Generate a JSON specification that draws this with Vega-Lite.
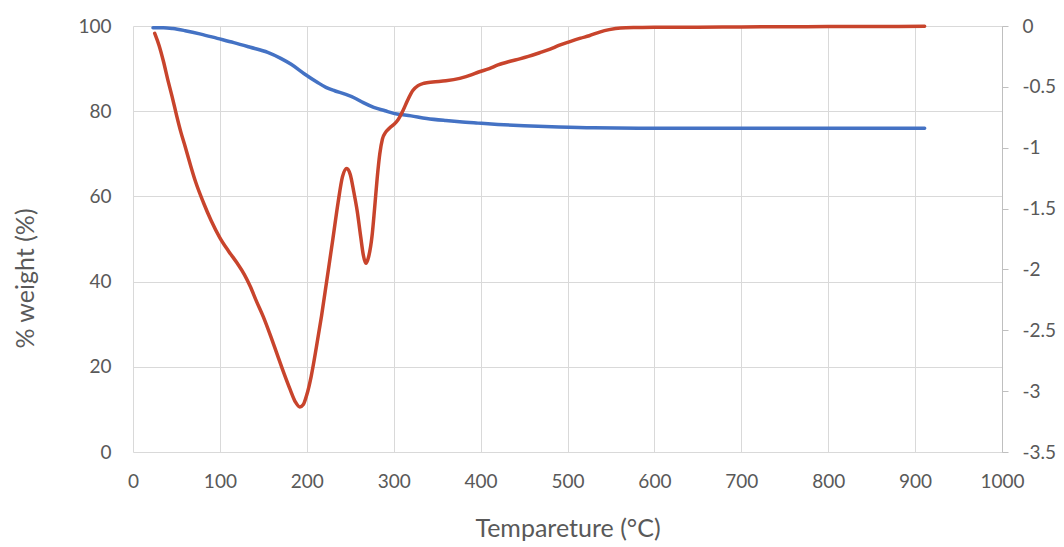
{
  "$schema": "https://vega.github.io/schema/vega-lite/v6.json",
  "width": 869,
  "height": 426,
  "autosize": {"type": "none"},
  "padding": {"left": 133, "top": 26, "right": 62, "bottom": 95},
  "background": "white",
  "config": {
    "view": {"stroke": null},
    "font": "Lato",
    "axis": {
      "labelColor": "#595959",
      "titleColor": "#595959",
      "labelFont": "Lato",
      "titleFont": "Lato",
      "labelFontSize": 19,
      "titleFontSize": 25,
      "titleFontWeight": "normal",
      "gridColor": "#d9d9d9",
      "gridWidth": 1,
      "domainColor": "#bfbfbf",
      "tickColor": "#bfbfbf",
      "labelFlush": false,
      "labelOverlap": false
    }
  },
  "datasets": {
    "tga": [
      {"temperature": 23, "weight": 99.6},
      {"temperature": 35, "weight": 99.6},
      {"temperature": 46, "weight": 99.4},
      {"temperature": 60, "weight": 98.9},
      {"temperature": 78, "weight": 98.1},
      {"temperature": 97, "weight": 97.1},
      {"temperature": 116, "weight": 96.1},
      {"temperature": 135, "weight": 95.0},
      {"temperature": 155, "weight": 93.8},
      {"temperature": 170, "weight": 92.4},
      {"temperature": 182, "weight": 91.0},
      {"temperature": 197, "weight": 88.8},
      {"temperature": 212, "weight": 86.8},
      {"temperature": 222, "weight": 85.6},
      {"temperature": 232, "weight": 84.8},
      {"temperature": 244, "weight": 84.0},
      {"temperature": 255, "weight": 83.1},
      {"temperature": 265, "weight": 82.0},
      {"temperature": 277, "weight": 80.9},
      {"temperature": 290, "weight": 80.1},
      {"temperature": 300, "weight": 79.5},
      {"temperature": 320, "weight": 78.9},
      {"temperature": 338, "weight": 78.3},
      {"temperature": 360, "weight": 77.8},
      {"temperature": 376, "weight": 77.5},
      {"temperature": 397, "weight": 77.2},
      {"temperature": 420, "weight": 76.9},
      {"temperature": 450, "weight": 76.6},
      {"temperature": 490, "weight": 76.3},
      {"temperature": 530, "weight": 76.1},
      {"temperature": 600, "weight": 76.0},
      {"temperature": 700, "weight": 76.0},
      {"temperature": 800, "weight": 76.0},
      {"temperature": 911, "weight": 76.0}
    ],
    "dtg": [
      {"temperature": 25, "dtg": -0.06},
      {"temperature": 30, "dtg": -0.16},
      {"temperature": 35, "dtg": -0.29},
      {"temperature": 40, "dtg": -0.44},
      {"temperature": 45, "dtg": -0.58},
      {"temperature": 50, "dtg": -0.73},
      {"temperature": 55, "dtg": -0.87},
      {"temperature": 60, "dtg": -0.99},
      {"temperature": 66, "dtg": -1.14},
      {"temperature": 72, "dtg": -1.28},
      {"temperature": 81, "dtg": -1.45},
      {"temperature": 90, "dtg": -1.6},
      {"temperature": 100, "dtg": -1.74},
      {"temperature": 110, "dtg": -1.85},
      {"temperature": 120, "dtg": -1.95},
      {"temperature": 128, "dtg": -2.04},
      {"temperature": 135, "dtg": -2.14},
      {"temperature": 142, "dtg": -2.26},
      {"temperature": 150, "dtg": -2.39},
      {"temperature": 158, "dtg": -2.54},
      {"temperature": 165, "dtg": -2.68},
      {"temperature": 173, "dtg": -2.84},
      {"temperature": 181, "dtg": -2.99},
      {"temperature": 187, "dtg": -3.09},
      {"temperature": 192, "dtg": -3.13},
      {"temperature": 196, "dtg": -3.11},
      {"temperature": 200, "dtg": -3.03},
      {"temperature": 205, "dtg": -2.88},
      {"temperature": 211, "dtg": -2.64},
      {"temperature": 217, "dtg": -2.38},
      {"temperature": 223, "dtg": -2.09},
      {"temperature": 230, "dtg": -1.75},
      {"temperature": 236, "dtg": -1.45},
      {"temperature": 241, "dtg": -1.24},
      {"temperature": 246, "dtg": -1.17},
      {"temperature": 250, "dtg": -1.22},
      {"temperature": 254, "dtg": -1.36},
      {"temperature": 258, "dtg": -1.52},
      {"temperature": 262, "dtg": -1.73},
      {"temperature": 265, "dtg": -1.88},
      {"temperature": 268, "dtg": -1.95},
      {"temperature": 271, "dtg": -1.9},
      {"temperature": 275, "dtg": -1.73},
      {"temperature": 278, "dtg": -1.5},
      {"temperature": 281, "dtg": -1.25},
      {"temperature": 284, "dtg": -1.05},
      {"temperature": 287, "dtg": -0.93},
      {"temperature": 291, "dtg": -0.87},
      {"temperature": 295, "dtg": -0.84},
      {"temperature": 300, "dtg": -0.81},
      {"temperature": 305, "dtg": -0.77},
      {"temperature": 311, "dtg": -0.69},
      {"temperature": 316, "dtg": -0.61},
      {"temperature": 322, "dtg": -0.53},
      {"temperature": 328, "dtg": -0.49},
      {"temperature": 335, "dtg": -0.47},
      {"temperature": 345, "dtg": -0.46},
      {"temperature": 360, "dtg": -0.45},
      {"temperature": 376, "dtg": -0.43},
      {"temperature": 390, "dtg": -0.4},
      {"temperature": 397, "dtg": -0.38},
      {"temperature": 410, "dtg": -0.35},
      {"temperature": 420, "dtg": -0.32},
      {"temperature": 434, "dtg": -0.29},
      {"temperature": 445, "dtg": -0.27},
      {"temperature": 455, "dtg": -0.25},
      {"temperature": 468, "dtg": -0.22},
      {"temperature": 480, "dtg": -0.19},
      {"temperature": 490, "dtg": -0.16},
      {"temperature": 502, "dtg": -0.13},
      {"temperature": 515, "dtg": -0.1},
      {"temperature": 525, "dtg": -0.08},
      {"temperature": 537, "dtg": -0.05},
      {"temperature": 548, "dtg": -0.03},
      {"temperature": 561, "dtg": -0.016},
      {"temperature": 580, "dtg": -0.012},
      {"temperature": 600, "dtg": -0.01},
      {"temperature": 650, "dtg": -0.01},
      {"temperature": 700, "dtg": -0.008},
      {"temperature": 750, "dtg": -0.006},
      {"temperature": 800, "dtg": -0.005},
      {"temperature": 850, "dtg": -0.004},
      {"temperature": 911, "dtg": -0.003}
    ]
  },
  "layer": [
    {
      "data": {"name": "tga"},
      "mark": {"type": "line", "color": "#4472C4", "strokeWidth": 3.5, "interpolate": "monotone", "strokeCap": "round"},
      "encoding": {
        "x": {
          "field": "temperature",
          "type": "quantitative",
          "scale": {"domain": [0, 1000], "nice": false},
          "axis": {
            "title": "Tempareture (°C)",
            "values": [0, 100, 200, 300, 400, 500, 600, 700, 800, 900, 1000],
            "format": "d",
            "ticks": false,
            "domain": false,
            "grid": true,
            "labelPadding": 20,
            "titlePadding": 25
          }
        },
        "y": {
          "field": "weight",
          "type": "quantitative",
          "scale": {"domain": [0, 100], "nice": false},
          "axis": {
            "title": "% weight (%)",
            "values": [0, 20, 40, 60, 80, 100],
            "format": "d",
            "ticks": false,
            "domain": false,
            "grid": true,
            "labelPadding": 22,
            "titleX": -95,
            "titleY": 252
          }
        }
      }
    },
    {
      "data": {"name": "dtg"},
      "mark": {"type": "line", "color": "#C8442C", "strokeWidth": 3.5, "interpolate": "monotone", "strokeCap": "round"},
      "encoding": {
        "x": {"field": "temperature", "type": "quantitative"},
        "y": {
          "field": "dtg",
          "type": "quantitative",
          "scale": {"domain": [-3.5, 0], "nice": false, "zero": false},
          "axis": {
            "orient": "right",
            "title": null,
            "values": [-3.5, -3, -2.5, -2, -1.5, -1, -0.5, 0],
            "labelExpr": "toString(datum.value)",
            "grid": false,
            "domain": true,
            "ticks": true,
            "tickSize": 6,
            "labelPadding": 14
          }
        }
      }
    }
  ],
  "resolve": {"scale": {"y": "independent"}}
}
